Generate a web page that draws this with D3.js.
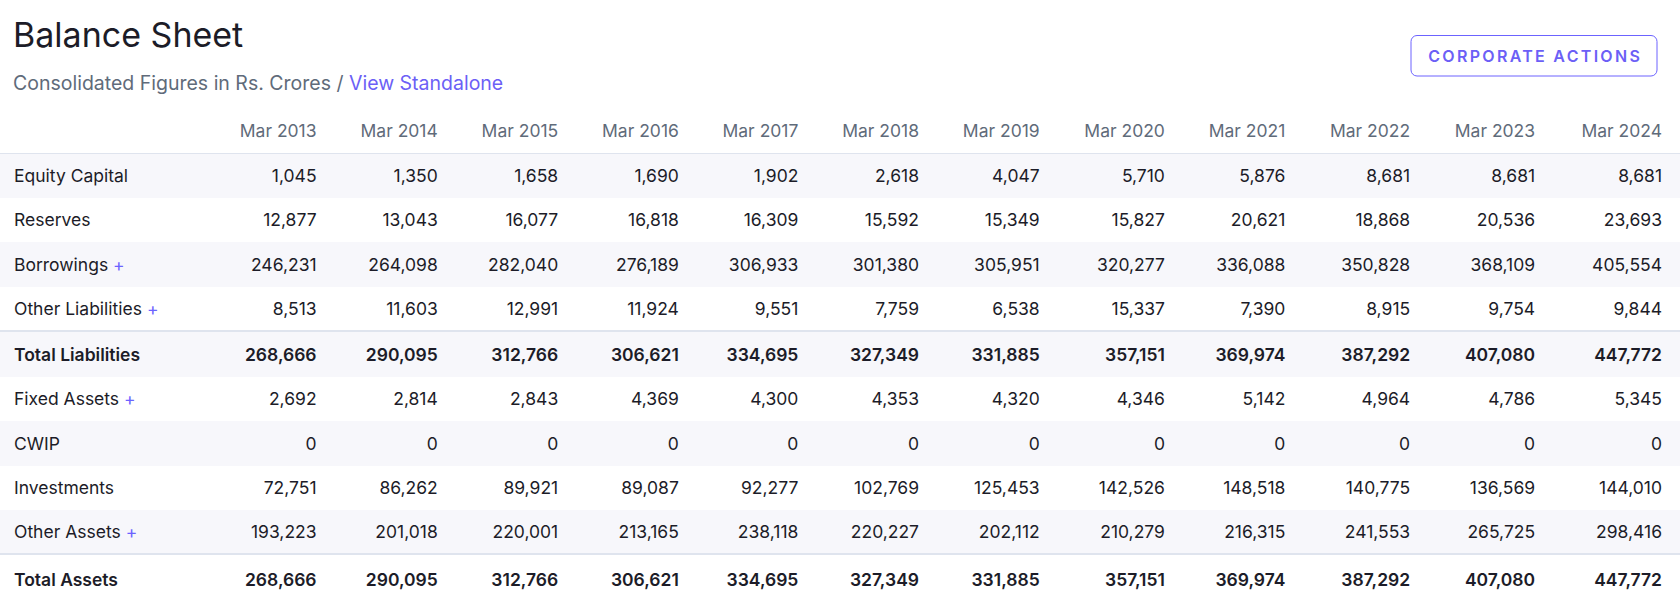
<!DOCTYPE html>
<html><head><meta charset="utf-8">
<script src="https://cdn.jsdelivr.net/npm/d3@7"></script>
<style>
html,body{margin:0;padding:0;background:#fff;overflow:hidden;}
body{width:1680px;height:607px;position:relative;font-family:Inter,"Noto Sans",sans-serif;}
svg#head{position:absolute;left:0;top:0;}
table{position:absolute;left:0;top:109px;width:1680px;border-collapse:collapse;font-size:17.5px;color:#1c1c28;}
th,td{height:44.45px;padding:0 11px;text-align:right;white-space:nowrap;line-height:1;box-sizing:border-box;}
th{height:44.35px;font-weight:400;color:#5f6b7a;border-bottom:1px solid #dfe4ee;}
th:first-child,td:first-child{text-align:left;padding-left:14px;}
th:last-child,td:last-child{padding-right:18px;}
tbody tr:nth-child(odd){background:#f7f7fb;}
tr.total td{font-weight:600;border-top:2px solid #dfe4ee;height:45.6px;}
tbody tr:last-child td{height:49px;}
.plus{color:#6c63ff;}
</style></head>
<body>
<svg id="head" width="1680" height="109"></svg>
<script>
const years = ["Mar 2013","Mar 2014","Mar 2015","Mar 2016","Mar 2017","Mar 2018","Mar 2019","Mar 2020","Mar 2021","Mar 2022","Mar 2023","Mar 2024"];
const rowLabels = ["Equity Capital","Reserves","Borrowings","Other Liabilities","Total Liabilities","Fixed Assets","CWIP","Investments","Other Assets","Total Assets"];
const expandableRows = ["Borrowings","Other Liabilities","Fixed Assets","Other Assets"];
const totalRows = ["Total Liabilities","Total Assets"];
const equityCapital = [1045,1350,1658,1690,1902,2618,4047,5710,5876,8681,8681,8681];
const reserves = [12877,13043,16077,16818,16309,15592,15349,15827,20621,18868,20536,23693];
const borrowings = [246231,264098,282040,276189,306933,301380,305951,320277,336088,350828,368109,405554];
const otherLiabilities = [8513,11603,12991,11924,9551,7759,6538,15337,7390,8915,9754,9844];
const totalLiabilities = [268666,290095,312766,306621,334695,327349,331885,357151,369974,387292,407080,447772];
const fixedAssets = [2692,2814,2843,4369,4300,4353,4320,4346,5142,4964,4786,5345];
const cwip = [0,0,0,0,0,0,0,0,0,0,0,0];
const investments = [72751,86262,89921,89087,92277,102769,125453,142526,148518,140775,136569,144010];
const otherAssets = [193223,201018,220001,213165,238118,220227,202112,210279,216315,241553,265725,298416];
const totalAssets = [268666,290095,312766,306621,334695,327349,331885,357151,369974,387292,407080,447772];
const seriesValues = [equityCapital,reserves,borrowings,otherLiabilities,totalLiabilities,fixedAssets,cwip,investments,otherAssets,totalAssets];
const titleText = "Balance Sheet";
const subtitleText = "Consolidated Figures in Rs. Crores / ";
const linkText = "View Standalone";
const buttonText = "CORPORATE ACTIONS";

const fmt = d3.format(",");
const head = d3.select("#head");
head.append("text").attr("x",13).attr("y",47.3)
  .style("font-size","34px").style("fill","#1c1c28").text(titleText);
const sub = head.append("text").attr("x",13).attr("y",90)
  .style("font-size","19.5px").style("fill","#606b7a");
sub.append("tspan").text(subtitleText);
sub.append("tspan").style("fill","#6c5ff6").text(linkText);
const bx=1411, by=35.5, bw=246, bh=40.5;
head.append("rect").attr("x",bx).attr("y",by).attr("width",bw).attr("height",bh)
  .attr("rx",6).attr("fill","none").attr("stroke","#6c63ff").attr("stroke-width",1);
head.append("text").attr("x",bx+bw/2+1.2).attr("y",61.7).attr("text-anchor","middle")
  .style("font-size","16px").style("font-weight",600).style("letter-spacing","2.3px")
  .style("fill","#6c5ff6").text(buttonText);

const table = d3.select("body").append("table");
const hr = table.append("thead").append("tr");
hr.append("th").text("");
hr.selectAll("th.y").data(years).join("th").attr("class","y").append("span").text(d=>d);
const rows = rowLabels.map((l,i)=>({label:l, values:seriesValues[i]}));
const tr = table.append("tbody").selectAll("tr").data(rows).join("tr")
  .attr("class",d=>totalRows.includes(d.label)?"total":null);
tr.append("td").append("span").text(d=>d.label);
tr.filter(d=>expandableRows.includes(d.label)).select("td").append("span").attr("class","plus").text(" +");
tr.selectAll("td.v").data(d=>d.values).join("td").attr("class","v").append("span").text(d=>fmt(d));
</script>
</body></html>
